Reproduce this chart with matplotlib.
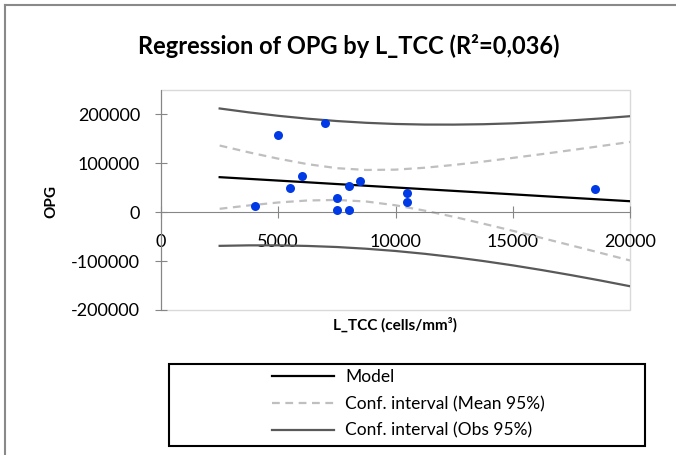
"""
Regression of OPG by L_TCC - scatter with model line and 95% bands.
"""
import matplotlib
matplotlib.use("Agg")
import matplotlib.pyplot as plt
from matplotlib.patches import Rectangle
from matplotlib.lines import Line2D

# ── Data ─────────────────────────────────────────────────────────────────────
l_tcc = [4000, 5000, 7000, 5500, 6000, 7500, 7500, 8000, 8000, 8500, 10500, 10500, 18500]
opg = [13700, 157000, 183000, 50000, 75000, 28700, 4100, 4100, 53000, 64000, 40000, 20500, 48000]

# curves
curve_x = [2500, 3750, 5000, 6250, 7500, 8750, 10000, 11250, 12500,
           13750, 15000, 16250, 17500, 18750, 20000]
model_y = [71700, 68200, 64700, 61200, 57600, 54100, 50600, 47100, 43600,
           40100, 36600, 33000, 29500, 26000, 22500]
mean_hi = [136400, 122400, 109500, 98300, 90100, 86400, 87100, 91000, 96800,
           103600, 111100, 118900, 127000, 135300, 143700]
mean_lo = [7000, 13900, 19900, 24000, 25100, 21900, 14200, 3200, -9600,
           -23500, -38000, -52800, -68000, -83300, -98700]
obs_hi = [212200, 204200, 197200, 191300, 186500, 182900, 180500, 179300, 179200,
          180000, 181800, 184500, 187800, 191800, 196400]
obs_lo = [-68800, -67800, -67800, -69000, -71200, -74700, -79300, -85100, -92000,
          -99900, -108700, -118400, -128800, -139800, -151400]

x_ticks = [0, 5000, 10000, 15000, 20000]
y_ticks = [-200000, -100000, 0, 100000, 200000]

FONT = "Lato"
plt.rcParams["font.family"] = FONT

# ── Plot ─────────────────────────────────────────────────────────────────────
fig = plt.figure(figsize=(6.76, 4.55), dpi=100)
ax = fig.add_axes([0.2382, 0.3187, 0.6938, 0.4835])

dash = (0, (3.5, 2.5))
ax.plot(curve_x, obs_hi, color="#595959", lw=1.6, zorder=2)
ax.plot(curve_x, obs_lo, color="#595959", lw=1.6, zorder=2)
ax.plot(curve_x, mean_hi, color="#bfbfbf", lw=1.6, ls=dash, zorder=2)
ax.plot(curve_x, mean_lo, color="#bfbfbf", lw=1.6, ls=dash, zorder=2)
ax.plot(curve_x, model_y, color="black", lw=1.6, zorder=3)
ax.scatter(l_tcc, opg, s=42, color="#0039e6", zorder=4, linewidths=0)

ax.set_xlim(0, 20000)
ax.set_ylim(-200000, 250000)
ax.set_xticks(x_ticks)
ax.set_yticks(y_ticks)
ax.set_xticklabels([str(v) for v in x_ticks])
ax.set_yticklabels([str(v) for v in y_ticks])

# axes styling (Excel look)
axis_col = "#868686"
for s in ["top", "right"]:
    ax.spines[s].set_visible(False)
ax.spines["left"].set_color(axis_col)
ax.spines["bottom"].set_color(axis_col)
ax.spines["bottom"].set_position(("data", 0))
ax.add_patch(Rectangle((0, 0), 1, 1, transform=ax.transAxes, fill=False,
                       ec="#d9d9d9", lw=1.0, zorder=0, clip_on=False))
ax.tick_params(axis="both", direction="inout", length=8, color=axis_col,
               labelsize=13, width=0.8)
ax.tick_params(axis="x", pad=12)
ax.tick_params(axis="y", pad=11)

# ── Text ─────────────────────────────────────────────────────────────────────
fig.text(0.516, 0.899, "Regression of OPG by L_TCC (R²=0,036)", ha="center",
         va="center", fontsize=17, fontweight="bold")
fig.text(0.0755, 0.558, "OPG", rotation=90, ha="center", va="center",
         fontsize=11, fontweight="bold")
fig.text(0.584, 1 - 325 / 455, "L_TCC (cells/mm³)", ha="center", va="center",
         fontsize=11, fontweight="bold")

# ── Legend ───────────────────────────────────────────────────────────────────
fig.add_artist(Rectangle((169 / 676, 1 - 446 / 455), 476 / 676, 82 / 455,
                         transform=fig.transFigure, fill=False, ec="black", lw=1.5))
handles = [
    Line2D([], [], color="black", lw=1.6),
    Line2D([], [], color="#bfbfbf", lw=1.6, ls=dash),
    Line2D([], [], color="#595959", lw=1.6),
]
labels = ["Model", "Conf. interval (Mean 95%)", "Conf. interval (Obs 95%)"]
fig.legend(handles, labels, loc="center", bbox_to_anchor=(0.604, 1 - 404 / 455),
           frameon=False, fontsize=12.5, handlelength=3.6, handletextpad=0.6,
           labelspacing=0.62)

# outer chart border (cut at right/bottom like the reference)
fig.add_artist(Line2D([5 / 676, 5 / 676], [0, 1 - 5 / 455], transform=fig.transFigure,
                      color="#898989", lw=1.5))
fig.add_artist(Line2D([5 / 676, 1], [1 - 5 / 455, 1 - 5 / 455], transform=fig.transFigure,
                      color="#898989", lw=1.5))

fig.savefig("out.png", dpi=100)
